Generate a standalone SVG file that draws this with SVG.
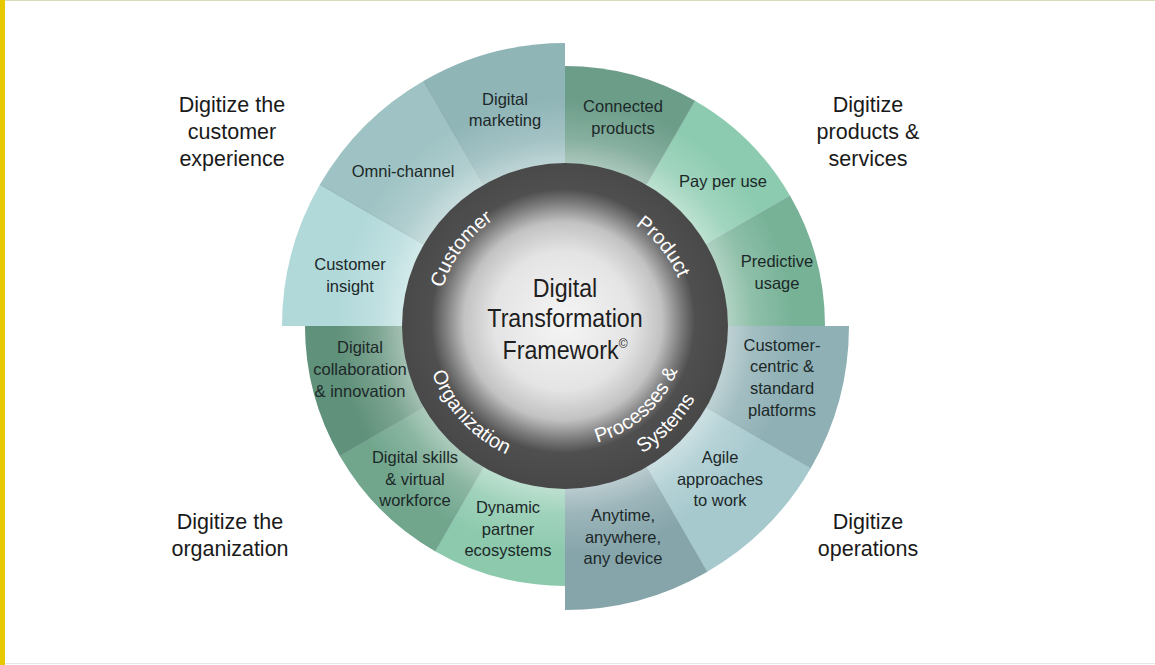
<svg xmlns="http://www.w3.org/2000/svg" width="1155" height="665" viewBox="0 0 1155 665">
<defs>
<style>
.seg{stroke:none}
.div{stroke:#5f8585;stroke-opacity:0.35;stroke-width:1}
.lbl{font-family:"Liberation Sans",Arial,sans-serif;font-size:16.5px;fill:#1c2828;text-anchor:middle}
.out{font-family:"Liberation Sans",Arial,sans-serif;font-size:21.5px;fill:#1a1a1a;text-anchor:middle}
.ctr{font-family:"Liberation Sans",Arial,sans-serif;font-size:25px;fill:#1e1e1e;text-anchor:middle}
.ring{font-family:"Liberation Sans",Arial,sans-serif;font-size:20px;fill:#ffffff;text-anchor:middle}
</style>
<radialGradient id="glow" gradientUnits="userSpaceOnUse" cx="565" cy="326" r="235">
<stop offset="0.68" stop-color="#ffffff" stop-opacity="0.45"/>
<stop offset="0.8" stop-color="#ffffff" stop-opacity="0.18"/>
<stop offset="0.97" stop-color="#ffffff" stop-opacity="0"/>
</radialGradient>
<radialGradient id="core" gradientUnits="userSpaceOnUse" cx="563" cy="321" r="165">
<stop offset="0" stop-color="#f5f5f5"/>
<stop offset="0.42" stop-color="#e4e4e4"/>
<stop offset="0.6" stop-color="#c2c2c2"/>
<stop offset="0.72" stop-color="#7a7a7a"/>
<stop offset="0.8" stop-color="#4f4f4f"/>
<stop offset="1" stop-color="#484848"/>
</radialGradient>
<path id="pCustomer" d="M447.6,377.0 A128,128 0 0,1 579.5,198.8"/>
<path id="pProduct" d="M545.8,204.5 A123,123 0 0,1 679.8,370.1"/>
<path id="pOrg" d="M430.5,283.6 A141,141 0 0,0 595.5,463.7"/>
<path id="pProc" d="M527.6,441.1 A121,121 0 0,0 683.4,300.8"/>
<path id="pSys" d="M529.0,470.6 A149,149 0 0,0 708.2,284.9"/>
</defs>
<rect x="0" y="0" width="1155" height="665" fill="#ffffff"/>
<rect x="0" y="0" width="5" height="665" fill="#e8c900"/>
<line x1="5" y1="0.5" x2="1155" y2="0.5" stroke="#d9dcb4" stroke-width="1"/>
<line x1="5" y1="663.5" x2="1155" y2="663.5" stroke="#e6e6e6" stroke-width="1"/>

<g id="quadrant-customer">
<g id="seg-customer-insight"><path class="seg" fill="#b2d9da" d="M565,326 L282,326 A283,283 0 0,1 319.9,184.5 Z"/></g>
<g id="seg-omni-channel"><path class="seg" fill="#9fc3c4" d="M565,326 L319.9,184.5 A283,283 0 0,1 423.5,80.9 Z"/></g>
<g id="seg-digital-marketing"><path class="seg" fill="#8fb5b7" d="M565,326 L423.5,80.9 A283,283 0 0,1 565,43 Z"/></g>
</g>
<g id="quadrant-product">
<g id="seg-connected-products"><path class="seg" fill="#6b9d89" d="M565,326 L565,66 A260,260 0 0,1 695,100.8 Z"/></g>
<g id="seg-pay-per-use"><path class="seg" fill="#8ccbb0" d="M565,326 L695,100.8 A260,260 0 0,1 790.2,196 Z"/></g>
<g id="seg-predictive-usage"><path class="seg" fill="#77b297" d="M565,326 L790.2,196 A260,260 0 0,1 825,326 Z"/></g>
</g>
<g id="quadrant-processes">
<g id="seg-customer-centric"><path class="seg" fill="#8fb0b5" d="M565,326 L849,326 A284,284 0 0,1 810.9,468 Z"/></g>
<g id="seg-agile"><path class="seg" fill="#a6c9ce" d="M565,326 L810.9,468 A284,284 0 0,1 707,571.9 Z"/></g>
<g id="seg-anytime"><path class="seg" fill="#86a5ab" d="M565,326 L707,571.9 A284,284 0 0,1 565,610 Z"/></g>
</g>
<g id="quadrant-organization">
<g id="seg-dynamic-partner"><path class="seg" fill="#8cc9ad" d="M565,326 L565,586 A260,260 0 0,1 435,551.2 Z"/></g>
<g id="seg-digital-skills"><path class="seg" fill="#71a68d" d="M565,326 L435,551.2 A260,260 0 0,1 339.8,456 Z"/></g>
<g id="seg-digital-collaboration"><path class="seg" fill="#60917a" d="M565,326 L339.8,456 A260,260 0 0,1 305,326 Z"/></g>
</g>

<g id="dividers">
<line class="div" x1="423.8" y1="244.5" x2="319.9" y2="184.5"/>
<line class="div" x1="483.5" y1="184.8" x2="423.5" y2="80.9"/>
<line class="div" x1="646.5" y1="184.8" x2="695" y2="100.8"/>
<line class="div" x1="706.2" y1="244.5" x2="790.2" y2="196"/>
<line class="div" x1="706.2" y1="407.5" x2="810.9" y2="468"/>
<line class="div" x1="646.5" y1="467.2" x2="707" y2="571.9"/>
<line class="div" x1="483.5" y1="467.2" x2="435" y2="551.2"/>
<line class="div" x1="423.8" y1="407.5" x2="339.8" y2="456"/>
</g>
<circle cx="565" cy="326" r="235" fill="url(#glow)"/>

<g id="segment-labels">
<text class="lbl" x="505" y="105">Digital</text>
<text class="lbl" x="505" y="126">marketing</text>
<text class="lbl" x="403" y="177">Omni-channel</text>
<text class="lbl" x="350" y="270">Customer</text>
<text class="lbl" x="350" y="292">insight</text>
<text class="lbl" x="623" y="112">Connected</text>
<text class="lbl" x="623" y="134">products</text>
<text class="lbl" x="723" y="187">Pay per use</text>
<text class="lbl" x="777" y="267">Predictive</text>
<text class="lbl" x="777" y="289">usage</text>
<text class="lbl" x="782" y="351">Customer-</text>
<text class="lbl" x="782" y="372">centric &amp;</text>
<text class="lbl" x="782" y="394">standard</text>
<text class="lbl" x="782" y="416">platforms</text>
<text class="lbl" x="720" y="463">Agile</text>
<text class="lbl" x="720" y="485">approaches</text>
<text class="lbl" x="720" y="506">to work</text>
<text class="lbl" x="623" y="521">Anytime,</text>
<text class="lbl" x="623" y="543">anywhere,</text>
<text class="lbl" x="623" y="564">any device</text>
<text class="lbl" x="360" y="353">Digital</text>
<text class="lbl" x="360" y="375">collaboration</text>
<text class="lbl" x="360" y="397">&amp; innovation</text>
<text class="lbl" x="415" y="463">Digital skills</text>
<text class="lbl" x="415" y="485">&amp; virtual</text>
<text class="lbl" x="415" y="506">workforce</text>
<text class="lbl" x="508" y="513">Dynamic</text>
<text class="lbl" x="508" y="535">partner</text>
<text class="lbl" x="508" y="556">ecosystems</text>
</g>

<g id="core-circle">
<circle cx="565" cy="326" r="163" fill="url(#core)"/>
<g transform="translate(565,0) scale(0.93,1)">
<text class="ctr" x="0" y="297">Digital</text>
<text class="ctr" x="0" y="327">Transformation</text>
<text class="ctr" x="0" y="359">Framework<tspan font-size="13" dy="-11">©</tspan></text>
</g>
</g>
<g id="ring-labels">
<text class="ring"><textPath href="#pCustomer" startOffset="50%">Customer</textPath></text>
<text class="ring"><textPath href="#pProduct" startOffset="50%">Product</textPath></text>
<text class="ring" font-size="19.5"><textPath href="#pOrg" startOffset="50%">Organization</textPath></text>
<text class="ring"><textPath href="#pProc" startOffset="50%">Processes &amp;</textPath><textPath href="#pSys" startOffset="50%">Systems</textPath></text>
</g>

<g id="label-customer-experience">
<text class="out" x="232" y="112">Digitize the</text>
<text class="out" x="232" y="139">customer</text>
<text class="out" x="232" y="166">experience</text>
</g>
<g id="label-products-services">
<text class="out" x="868" y="112">Digitize</text>
<text class="out" x="868" y="139">products &amp;</text>
<text class="out" x="868" y="166">services</text>
</g>
<g id="label-organization">
<text class="out" x="230" y="529">Digitize the</text>
<text class="out" x="230" y="556">organization</text>
</g>
<g id="label-operations">
<text class="out" x="868" y="529">Digitize</text>
<text class="out" x="868" y="556">operations</text>
</g>
</svg>
